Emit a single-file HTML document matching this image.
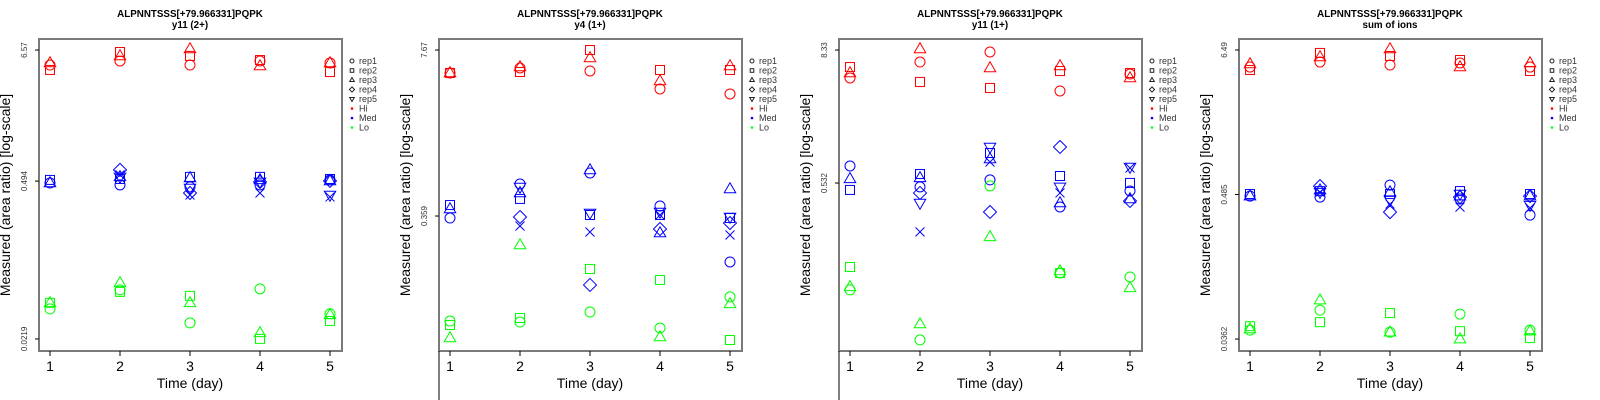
<!DOCTYPE html>
<html><head><meta charset="utf-8"><style>
html,body{margin:0;padding:0;background:#fff;}
svg{display:block;font-family:"Liberation Sans",sans-serif;}
</style></head><body>
<svg id="chart" width="1600" height="400" viewBox="0 0 1600 400" xmlns="http://www.w3.org/2000/svg"></svg>
<script>
// ---- data (log10 of measured area ratio) ----
const days = [1,2,3,4,5];
const panelTitles = ["y11 (2+)","y4 (1+)","y11 (1+)","sum of ions"];
const peptide = "ALPNNTSSS[+79.966331]PQPK";
const yMinLog = [-1.660,-1.430,-1.675,-1.441];
const yMaxLog = [0.818,0.885,0.921,0.812];
const tickLabels = [["6.57","0.494","0.0219"],["7.67","0.359"],["8.33","0.532"],["6.49","0.485","0.0362"]];
const tickValues = [[6.57,0.494,0.0219],[7.67,0.359],[8.33,0.532],[6.49,0.485,0.0362]];
const repNames = ["rep1","rep2","rep3","rep4","rep5"];
const levelNames = ["Hi","Med","Lo"];
const levelColors = ["#ff0000","#0000ff","#00ff00"];

const p1Hi = [[0.689,0.724,0.689,0.724,0.707],[0.647,0.801,0.767,0.732,0.629],[0.707,0.767,0.827,0.681,0.707]];
const p1Med = [[-0.322,-0.339,-0.356,-0.339,-0.296],[-0.296,-0.288,-0.270,-0.270,-0.288],[-0.322,-0.270,-0.279,-0.296,-0.305],[null,-0.210,-0.408,-0.313,-0.305],[null,-0.270,-0.365,-0.313,-0.425],[null,-0.253,-0.425,-0.408,-0.442]];
const p1Lo = [[-1.402,-1.239,-1.522,-1.230,-1.444],[-1.350,-1.256,-1.290,-1.659,-1.505],[-1.350,-1.179,-1.350,-1.607,-1.453]];

const p2Hi = [[0.701,0.741,0.717,0.573,0.533],[0.701,0.709,0.885,0.725,0.725],[0.701,0.749,0.821,0.637,0.757]];
const p2Med = [[-0.461,-0.188,-0.100,-0.365,-0.813],[-0.357,-0.308,-0.437,-0.437,-0.461],[-0.389,-0.260,-0.076,-0.581,-0.228],[null,-0.453,-0.997,-0.549,-0.501],[null,-0.212,-0.421,-0.413,-0.453],[null,-0.525,-0.573,-0.437,-0.597]];
const p2Lo = [[-1.286,-1.294,-1.214,-1.342,-1.093],[-1.318,-1.262,-0.869,-0.957,-1.438],[-1.422,-0.677,null,-1.414,-1.149]];

const p3Hi = [[0.670,0.813,0.903,0.553,0.705],[0.768,0.634,0.580,0.732,0.714],[0.714,0.930,0.759,0.777,0.670]];
const p3Med = [[-0.121,-0.309,-0.246,-0.489,-0.345],[-0.336,-0.193,-0.004,-0.211,-0.273],[-0.237,-0.228,-0.058,-0.453,-0.417],[null,-0.363,-0.534,0.050,-0.435],[null,-0.453,0.050,-0.309,-0.130],[null,-0.713,-0.085,-0.363,-0.139]];
const p3Lo = [[-1.234,-1.683,-0.300,-1.082,-1.118],[-1.028,null,null,-1.082,null],[-1.207,-1.540,-0.758,-1.064,-1.216]];

const p4Hi = [[0.679,0.718,0.695,0.711,0.679],[0.656,0.789,0.765,0.734,0.648],[0.703,0.757,0.820,0.679,0.711]];
const p4Med = [[-0.327,-0.335,-0.241,-0.350,-0.475],[-0.311,-0.288,-0.311,-0.288,-0.311],[-0.327,-0.280,-0.296,-0.327,-0.327],[null,-0.249,-0.452,-0.335,-0.327],[null,-0.296,-0.358,-0.311,-0.397],[null,-0.296,-0.389,-0.413,-0.420]];
const p4Lo = [[-1.372,-1.216,-1.388,-1.247,-1.372],[-1.341,-1.310,-1.239,-1.380,-1.434],[-1.364,-1.138,-1.388,-1.442,-1.380]];

const panelData = [[p1Hi,p1Med,p1Lo],[p2Hi,p2Med,p2Lo],[p3Hi,p3Med,p3Lo],[p4Hi,p4Med,p4Lo]];

// ---- drawing ----
const NS = "http://www.w3.org/2000/svg";
const svg = document.getElementById("chart");
function mk(tag, attrs, parent){ const e=document.createElementNS(NS,tag); for(const k in attrs) e.setAttribute(k,attrs[k]); (parent||svg).appendChild(e); return e; }
const BL=39,BR=342,BT=39,BB=351,PT=50,PB=339;
function xScale(d){ return 50 + (d-1)*70; }
function yScale(p,lv){ return PB - (lv - yMinLog[p])/(yMaxLog[p]-yMinLog[p])*(PB-PT); }

function marker(g, shape, x, y, color, r){
  let e;
  if(shape===0) e=mk("circle",{cx:x,cy:y,r:r},g);
  else if(shape===1) e=mk("rect",{x:x-r*0.9,y:y-r*0.9,width:r*1.8,height:r*1.8},g);
  else if(shape===2) e=mk("polygon",{points:`${x},${y-r*1.25} ${x-r*1.15},${y+r*0.75} ${x+r*1.15},${y+r*0.75}`},g);
  else if(shape===3) e=mk("polygon",{points:`${x},${y-r*1.3} ${x+r*1.3},${y} ${x},${y+r*1.3} ${x-r*1.3},${y}`},g);
  else if(shape===4) e=mk("polygon",{points:`${x},${y+r*1.25} ${x-r*1.15},${y-r*0.75} ${x+r*1.15},${y-r*0.75}`},g);
  else e=mk("path",{d:`M${x-r*0.9},${y-r*0.9}L${x+r*0.9},${y+r*0.9}M${x-r*0.9},${y+r*0.9}L${x+r*0.9},${y-r*0.9}`},g);
  e.setAttribute("fill","none"); e.setAttribute("stroke",color); e.setAttribute("stroke-width","1");
  return e;
}

for(let p=0;p<4;p++){
  const g = mk("g",{transform:`translate(${p*400},0)`});
  
  
  const t1 = mk("text",{x:190,y:17,"text-anchor":"middle","font-size":"9.8","font-weight":"bold",fill:"#000"},g);
  t1.textContent = peptide;
  
  
  const t2 = mk("text",{x:190,y:28,"text-anchor":"middle","font-size":"9.8","font-weight":"bold",fill:"#000"},g);
  t2.textContent = panelTitles[p];
  
  
  const box = mk("rect",{x:BL,y:BT,width:BR-BL,height:BB-BT,fill:"none",stroke:"#7a7a7a","stroke-width":"2"},g);
  
  
  if(p===1||p===2){ const l=mk("line",{x1:BL,y1:BB,x2:BL,y2:400,stroke:"#000","stroke-width":"1"},g);
      }
  days.forEach(d=>{
    const x=xScale(d);
    const tk=mk("line",{x1:x,y1:BB,x2:x,y2:BB+5,stroke:"#000","stroke-width":"1"},g);
     
    const tl=mk("text",{x:x,y:371,"text-anchor":"middle","font-size":"14",fill:"#000"},g);
    tl.textContent=String(d);
     
  });
  const xt=mk("text",{x:190,y:388,"text-anchor":"middle","font-size":"14",fill:"#000"},g);
  xt.textContent="Time (day)";
   
  const yt=mk("text",{x:0,y:0,"text-anchor":"middle","font-size":"14",fill:"#000",transform:"translate(10,195) rotate(-90)"},g);
  yt.textContent="Measured (area ratio) [log-scale]";
   
  tickValues[p].forEach((v,i)=>{
    const y=yScale(p,Math.log10(v));
    const tk=mk("line",{x1:BL-4,y1:y,x2:BL,y2:y,stroke:"#000","stroke-width":"1"},g);
     
    const tl=mk("text",{x:0,y:0,"text-anchor":"middle","font-size":"8",fill:"#333",transform:`translate(27,${y}) rotate(-90)`},g);
    tl.textContent=tickLabels[p][i];
     
  });
  panelData[p].forEach((lvl,li)=>{
    lvl.forEach((series,ri)=>{
      series.forEach((v,di)=>{
        if(v===null) return;
        const m=marker(g, ri, xScale(days[di]), yScale(p,v), levelColors[li], 5);
        
        
      });
    });
  });
  const lg = mk("g",{},g);
  
  
  repNames.forEach((n,i)=>{
    const y=61+i*9.5;
    const e=marker(lg,i,352,y,"#222",2);
     
    const tx=mk("text",{x:359,y:y+3,"font-size":"9",fill:"#333"},lg);
    tx.textContent=n;
     
  });
  levelNames.forEach((n,i)=>{
    const y=108.5+i*9.5;
    const d=mk("circle",{cx:352,cy:y,r:1.3,fill:levelColors[i]},lg);
     
    const tx=mk("text",{x:359,y:y+3,"font-size":"9",fill:"#333"},lg);
    tx.textContent=n;
     
  });
}
</script>
</body></html>
